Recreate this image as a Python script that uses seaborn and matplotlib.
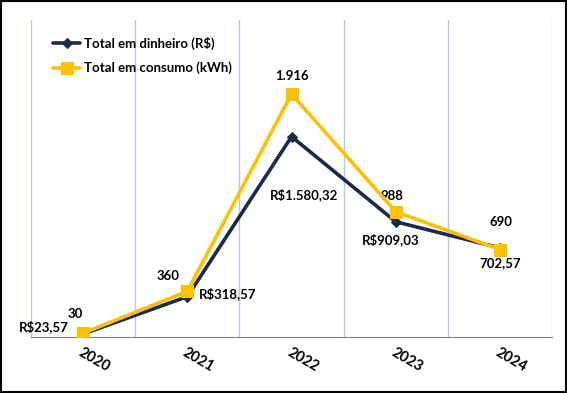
import matplotlib
matplotlib.use("Agg")
import matplotlib.pyplot as plt
import seaborn as sns
import pandas as pd
import numpy as np

# data
anos = ["2020", "2021", "2022", "2023", "2024"]
dinheiro = [23.57, 318.57, 1580.32, 909.03, 702.57]
consumo = [30, 360, 1916, 988, 690]
rotulos_dinheiro = ["R$23,57", "R$318,57", "R$1.580,32", "R$909,03", "702,57"]
rotulos_consumo = ["30", "360", "1.916", "988", "690"]

NAVY = "#1B2A47"
GOLD = "#FFC000"

sns.set_style("white")
plt.rcParams["font.family"] = ["Lato", "DejaVu Sans"]

df = pd.DataFrame({"ano": np.arange(len(anos)), "dinheiro": dinheiro, "consumo": consumo})

fig = plt.figure(figsize=(5.67, 3.93), dpi=100)
ax = fig.add_axes([0.0547, 0.1425, 0.919, 0.8065])

sns.lineplot(data=df, x="ano", y="dinheiro", ax=ax, color=NAVY, lw=2.6,
             marker="D", markersize=5, markeredgecolor=NAVY,
             label="Total em dinheiro (R$)", zorder=3)
sns.lineplot(data=df, x="ano", y="consumo", ax=ax, color=GOLD, lw=2.6,
             marker="s", markersize=8, markeredgecolor=GOLD,
             label="Total em consumo (kWh)", zorder=4)

ax.set_xlim(-0.5, len(anos) - 0.5)
ax.set_ylim(0, 2500)

# category ticks and vertical gridlines at the boundaries
ax.set_xticks(df["ano"])
ax.set_xticklabels(anos, rotation=-30, ha="left", rotation_mode="anchor",
                   fontsize=10.5, fontweight="bold", color="black")
ax.set_xticks(np.arange(-0.5, len(anos)), minor=True)
ax.tick_params(axis="x", which="major", length=0, pad=6)
ax.tick_params(axis="x", which="minor", length=5, color="#7F7F7F", width=1)
ax.grid(True, axis="x", which="minor", color="#B4C7E7", lw=1)
ax.grid(False, axis="y")
ax.set_yticks([])
ax.set_xlabel("")
ax.set_ylabel("")
for s in ["top", "right", "left"]:
    ax.spines[s].set_visible(False)
ax.spines["bottom"].set_color("#7F7F7F")

# data labels
off_d = [(-28, 5), (8, 2), (9, -42), (-4, -13), (0, -11)]
off_c = [(-6, 14), (-14, 11), (0, 13), (-3, 11), (1, 20)]
for i in range(len(anos)):
    ax.annotate(rotulos_dinheiro[i], (i, dinheiro[i]), xytext=off_d[i],
                textcoords="offset points", ha="center" if i != 1 else "left",
                va="center", fontsize=9.5, fontweight="bold", color="black")
    ax.annotate(rotulos_consumo[i], (i, consumo[i]), xytext=off_c[i],
                textcoords="offset points", ha="center", va="center",
                fontsize=9.5, fontweight="bold", color="black")

leg = ax.legend(loc="upper left", bbox_to_anchor=(0.02, 0.985), frameon=False,
                fontsize=9.5, labelspacing=0.9, handlelength=2.0, handletextpad=0.3)
for t in leg.get_texts():
    t.set_fontweight("bold")
    t.set_color("black")

# outer border
fig.patches.append(plt.Rectangle((0.002, 0.003), 0.996, 0.994, transform=fig.transFigure,
                                 fill=False, edgecolor="black", lw=1.5))

fig.savefig("out.png", dpi=100)
